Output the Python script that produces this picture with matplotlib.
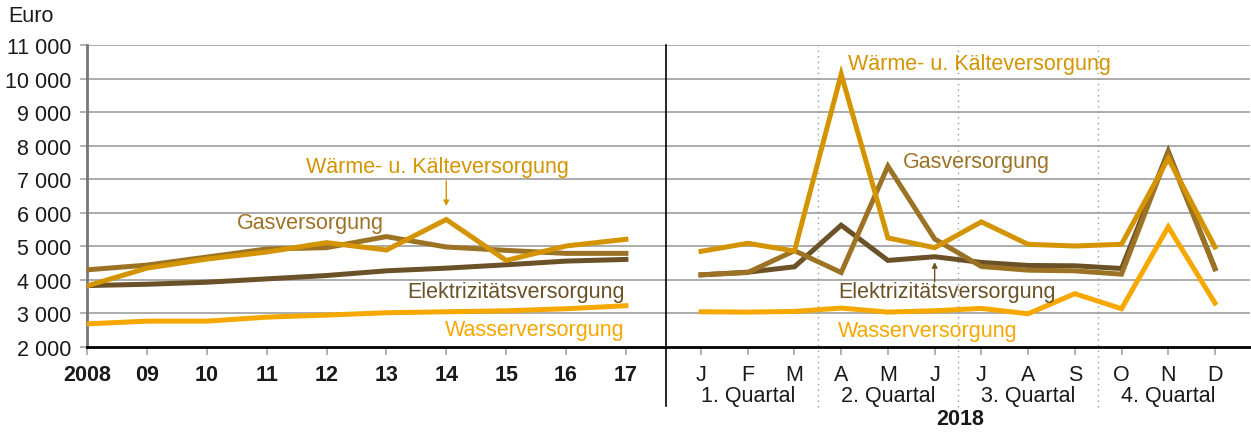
import matplotlib

matplotlib.use("Agg")
import matplotlib.pyplot as plt

# annual values 2008-2017
years = ["2008", "09", "10", "11", "12", "13", "14", "15", "16", "17"]
waerme_y = [3820, 4350, 4620, 4830, 5110, 4890, 5800, 4580, 5010, 5210]
gas_y = [4300, 4440, 4680, 4920, 4960, 5290, 4980, 4880, 4790, 4790]
elek_y = [3830, 3870, 3930, 4030, 4130, 4270, 4350, 4450, 4560, 4610]
wasser_y = [2690, 2770, 2770, 2890, 2950, 3020, 3050, 3080, 3140, 3230]

# monthly values 2018
months = ["J", "F", "M", "A", "M", "J", "J", "A", "S", "O", "N", "D"]
waerme_m = [4850, 5090, 4860, 10130, 5250, 4960, 5730, 5060, 5010, 5060, 7620, 4980]
gas_m = [4150, 4220, 4870, 4220, 7390, 5220, 4400, 4290, 4270, 4170, 7780, 4330]
elek_m = [4150, 4230, 4390, 5630, 4580, 4690, 4520, 4430, 4420, 4340, 7830, 4340]
wasser_m = [3050, 3040, 3060, 3160, 3040, 3080, 3150, 2990, 3590, 3140, 5580, 3310]
quartals = ["1. Quartal", "2. Quartal", "3. Quartal", "4. Quartal"]

C_WAERME = "#d39400"
C_GAS = "#9c7325"
C_ELEK = "#6b5127"
C_WASSER = "#f6a800"
GRID = "#a6a6a6"

plt.rcParams["font.family"] = ["Liberation Sans", "DejaVu Sans"]
plt.rcParams["font.size"] = 15.5

fig = plt.figure(figsize=(12.51, 4.35), dpi=100)
B, T = 1 - 348 / 435, 1 - 46 / 435
axL = fig.add_axes([87 / 1251, B, (666 - 87) / 1251, T - B])
axR = fig.add_axes([666 / 1251, B, (1250 - 666) / 1251, T - B])

xL = list(range(len(years)))
xR = list(range(len(months)))
lw = 3.6

for ax, x, data in ((axL, xL, (elek_y, gas_y, waerme_y, wasser_y)),
                    (axR, xR, (elek_m, gas_m, waerme_m, wasser_m))):
    for vals, col in zip(data, (C_ELEK, C_GAS, C_WAERME, C_WASSER)):
        ax.plot(x, vals, color=col, lw=lw, solid_joinstyle="miter", zorder=3)
    ax.set_ylim(2000, 11000)
    ax.set_yticks(range(2000, 11001, 1000))
    for v in range(3000, 11001, 1000):
        ax.axhline(v, color=GRID, lw=1.3, zorder=1)
    for s in ("top", "right", "left"):
        ax.spines[s].set_visible(False)
    ax.spines["bottom"].set_linewidth(2)
    ax.spines["bottom"].set_zorder(4)
    ax.tick_params(axis="x", direction="out", length=6, width=1.2,
                   color=GRID, pad=6, labelcolor="#1a1a1a")

axL.set_xlim(0, 9.67)
axR.set_xlim(-0.75, 11.75)

axL.spines["left"].set_visible(True)
axL.spines["left"].set_color("#777777")
axL.spines["left"].set_linewidth(2)
axL.tick_params(axis="y", direction="out", length=5, width=1.2,
                color=GRID, pad=6, labelcolor="#1a1a1a")
axL.set_yticklabels([f"{v:,}".replace(",", " ") for v in range(2000, 11001, 1000)])
axR.tick_params(axis="y", left=False, labelleft=False)

axL.set_xticks(xL)
axL.set_xticklabels(years, fontweight="bold")
axR.set_xticks(xR)
axR.set_xticklabels(months)

# separator and quarter dividers
axR.axvline(-0.75, ymin=-0.195, ymax=1, color="black", lw=1.2,
            clip_on=False, zorder=5)
for q in (2.5, 5.5, 8.5):
    axR.axvline(q, ymin=-0.2, ymax=1, color="#999999", lw=1,
                ls=(0, (1, 3)), clip_on=False, zorder=2)

for i, q in enumerate(quartals):
    axR.text(1 + 3 * i, -0.162, q, ha="center", va="center",
             transform=axR.get_xaxis_transform(), color="#1a1a1a")
axR.text(5.55, -0.238, "2018", ha="center", va="center", fontweight="bold",
         transform=axR.get_xaxis_transform(), color="#1a1a1a")

fig.text(8 / 1251, 1 - 17 / 435, "Euro", ha="left", va="center", color="#1a1a1a")

# series labels, left part
axL.text(5.86, 7390, "Wärme- u. Kälteversorgung", color=C_WAERME,
         ha="center", va="center")
axL.annotate("", xy=(6.0, 6200), xytext=(6.0, 6950),
             arrowprops=dict(arrowstyle="-|>", color=C_WAERME, lw=1,
                             mutation_scale=8, shrinkA=0, shrinkB=0))
axL.text(2.5, 5700, "Gasversorgung", color=C_GAS, ha="left", va="center")
axL.text(8.98, 3640, "Elektrizitätsversorgung", color=C_ELEK,
         ha="right", va="center")
axL.text(8.98, 2510, "Wasserversorgung", color=C_WASSER,
         ha="right", va="center")

# series labels, right part
axR.text(3.14, 10460, "Wärme- u. Kälteversorgung", color=C_WAERME,
         ha="left", va="center")
axR.text(4.32, 7540, "Gasversorgung", color=C_GAS, ha="left", va="center")
axR.text(2.93, 3640, "Elektrizitätsversorgung", color=C_ELEK,
         ha="left", va="center")
axR.annotate("", xy=(5, 4530), xytext=(5, 3940),
             arrowprops=dict(arrowstyle="-|>", color=C_ELEK, lw=1,
                             mutation_scale=8, shrinkA=0, shrinkB=0))
axR.text(2.93, 2480, "Wasserversorgung", color=C_WASSER,
         ha="left", va="center")

fig.savefig("out.png", dpi=100)
